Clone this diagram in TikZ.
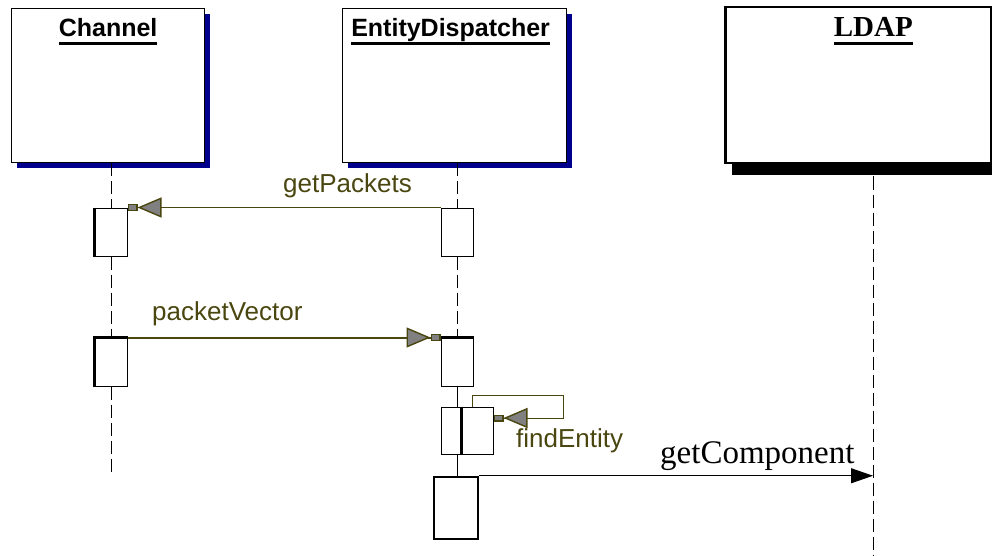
\documentclass[tikz,border=0pt]{standalone}
\usepackage{fontspec}
\setmainfont{Liberation Serif}
\setsansfont{Liberation Sans}
\usepackage{tikz}
\usetikzlibrary{arrows.meta, shadows, positioning}
\definecolor{msgolive}{RGB}{74,70,16}
\definecolor{tipgray}{RGB}{128,128,128}
\definecolor{shadowblue}{RGB}{0,0,140}
\newcommand{\ulname}[1]{%
\setbox0=\hbox{#1}\rlap{\copy0}\rule[-8pt]{\wd0}{2.5pt}%
}
\tikzset{
  object/.style = {draw, fill=white, line width=1.2pt, anchor=north west, inner sep=0pt},
  blueshadow/.style = {general shadow={fill=shadowblue, shadow xshift=5.5pt, shadow yshift=-5pt}},
  blackshadow/.style = {general shadow={fill=black, shadow xshift=7pt, shadow yshift=-12pt}},
  objtitle/.style = {font=\sffamily\bfseries\fontsize{25}{30}\selectfont, inner sep=0pt},
  act/.style = {draw, fill=white, line width=1pt, minimum width=32pt, minimum height=48pt, inner sep=0pt},
  lifeline/.style = {line width=0.8pt, dash pattern=on 13pt off 5pt},
  olivemsg/.style = {draw=msgolive, line width=1pt,
    -{Triangle[length=24pt, width=20pt, fill=tipgray, line width=1.4pt] Rectangle[length=10pt, width=7pt, fill=tipgray, line width=1.4pt]}},
  msglabel/.style = {font=\sffamily\fontsize{26}{30}\selectfont, text=msgolive, inner sep=0pt},
  callarrow/.style = {line width=0.9pt, -{Triangle[length=22pt, width=15pt]}}
}
\begin{document}
\begin{tikzpicture}[x=1pt, y=-1pt]
    \useasboundingbox (0,0) rectangle (992,556);
    % Oggetti
    \node[object, blueshadow, minimum width=193pt, minimum height=154pt] (channel) at (11,8) {};
    \node[object, blueshadow, minimum width=224pt, minimum height=154pt] (dispatcher) at (342,8) {};
    \node[object, blackshadow, line width=2.5pt, minimum width=266pt, minimum height=156pt] (ldap) at (724,6) {};
    \node[objtitle, anchor=base] (channeltitle) at ([yshift=-29pt]channel.north) {\ulname{Channel}};
    \node[objtitle, anchor=base] (dispatchertitle) at ([xshift=-4pt, yshift=-29pt]dispatcher.north) {\ulname{EntityDispatcher}};
    \node[objtitle, font=\rmfamily\bfseries\fontsize{29}{34}\selectfont, anchor=base] (ldaptitle) at ([xshift=15pt, yshift=-31pt]ldap.north) {\ulname{LDAP}};
    % Attivazioni
    \coordinate (channelend) at (111,475);
    \coordinate (ldapend) at (873,556);
    \node[act] (c1) at (111,232) {};
    \node[act] (e1) at (457,232) {};
    \node[act] (c2) at (111,362) {};
    \node[act] (e2) at (457,362) {};
    \node[act, minimum width=21pt, minimum height=47pt] (f1) at (451.5,430.5) {};
    \node[act, minimum width=31pt, minimum height=47pt] (f2) at (477.5,430.5) {};
    \node[act, line width=2.5pt, minimum width=44pt, minimum height=62pt] (e3) at (456,508) {};
    % Linee di vita
    \draw[lifeline] (channel.south -| c1) -- (c1.north);
    \draw[lifeline] (c1.south) -- (c2.north);
    \draw[lifeline] (c2.south) -- (channelend);
    \draw[lifeline] (dispatcher.south -| e1) -- (e1.north);
    \draw[lifeline] (e1.south) -- (e2.north);
    \draw[line width=0.8pt] (e2.south) -- (f1.north -| e2);
    \draw[line width=0.8pt] (f1.south -| e2) -- (e3.north -| e2);
    \draw[lifeline] ([yshift=-12pt]ldap.south -| ldapend) -- (ldapend);
    % Bordi spessi
    \draw[line width=3pt] (c1.north west) -- (c1.south west);
    \draw[line width=3pt] (c2.south west) -- (c2.north west) -- (c2.north east);
    \draw[line width=3pt] (e2.north west) -- (e2.north east);
    \draw[line width=2.5pt] (f2.north west) -- (f2.south west);
    % Messaggi
    \draw[olivemsg] (e1.north west) -- (c1.north east);
    \node[msglabel, anchor=base west] (getpackets) at (283,192) {getPackets};
    \draw[olivemsg, line width=2pt] (c2.north east) -- (e2.north west);
    \node[msglabel, anchor=base west] (packetvector) at (152,320) {packetVector};
    \coordinate (loopne) at (563,395);
    \draw[olivemsg] ([xshift=11pt]f2.north west) |- (loopne) |- ([yshift=12.5pt]f2.east);
    \node[msglabel, anchor=base west] (findentity) at (516,447) {findEntity};
    \draw[callarrow] (e3.north east) -- (e3.north east -| ldapend);
    \node[font=\rmfamily\fontsize{33}{38}\selectfont, inner sep=0pt, anchor=base west] (getcomponent) at (660,463) {getComponent};
\end{tikzpicture}
\end{document}
